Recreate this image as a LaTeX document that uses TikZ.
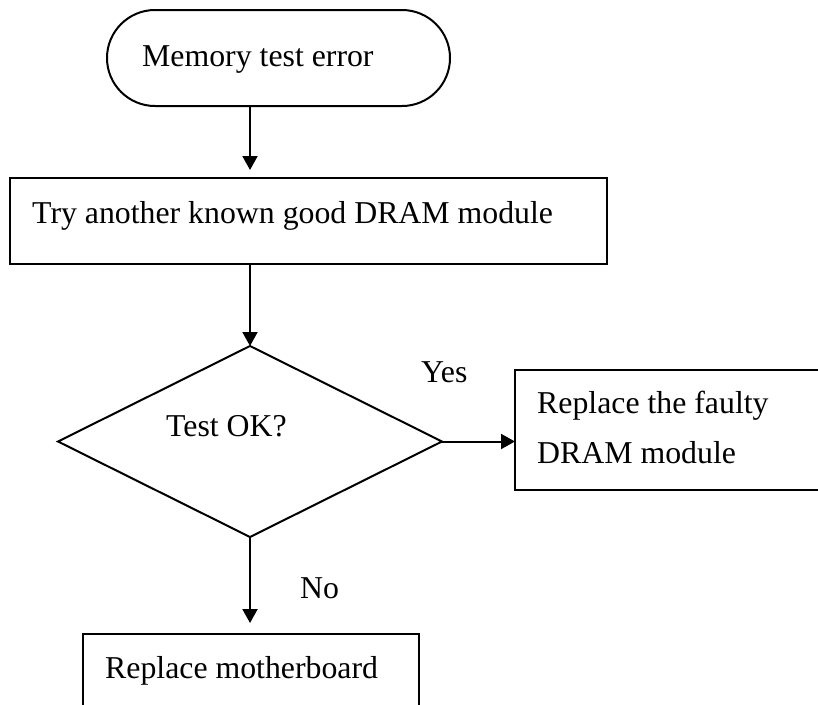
\documentclass[tikz,border=0pt]{standalone}
\usepackage{fontspec}
\setmainfont{Liberation Serif}
\usetikzlibrary{arrows.meta,shapes.geometric}
\begin{document}
\begin{tikzpicture}[x=1pt,y=-1pt,
  shapebox/.style={draw=black, line width=2pt, inner sep=0pt, outer sep=0pt, rectangle},
  txt/.style={anchor=base west, inner sep=0pt, font=\fontsize{31.8}{40}\selectfont},
  arr/.style={-{Triangle[length=14pt,width=15pt]}, line width=2pt}]
\useasboundingbox (0,0) rectangle (818,704);
\fill[white] (0,0) rectangle (818,704);
\clip (0,0) rectangle (818,704);
% shapes
\node[shapebox, rounded corners=48pt, minimum width=343pt, minimum height=96pt] (term) at (278.5,58) {};
\node[shapebox, minimum width=597pt, minimum height=86pt] (box2) at (308.5,221) {};
\node[shapebox, diamond, minimum width=384pt, minimum height=191pt] (dia) at (250,441.5) {};
\node[shapebox, minimum width=345pt, minimum height=120pt] (rbox) at (687.5,430) {};
\node[shapebox, minimum width=336pt, minimum height=120pt] (bbox) at (251,694) {};
% texts
\node[txt] (t1) at (142,66) {Memory test error};
\node[txt] (t2) at (32,223) {Try another known good DRAM module};
\node[txt] (t3) at (166,436) {Test OK?};
\node[txt] (t4) at (421,382) {Yes};
\node[txt] (t5) at (537,413) {Replace the faulty};
\node[txt] (t6) at (537,463) {DRAM module};
\node[txt] (t7) at (300,598) {No};
\node[txt] (t8) at (105,678) {Replace motherboard};
% connectors
\draw[arr] (term.south -| dia.north) -- ([yshift=8pt]box2.north -| dia.north);
\draw[arr] (box2.south -| dia.north) -- (dia.north);
\draw[arr] (dia.east) -- (dia.east -| rbox.west);
\draw[arr] (dia.south) -- ([yshift=11pt]bbox.north -| dia.south);
\end{tikzpicture}
\end{document}
